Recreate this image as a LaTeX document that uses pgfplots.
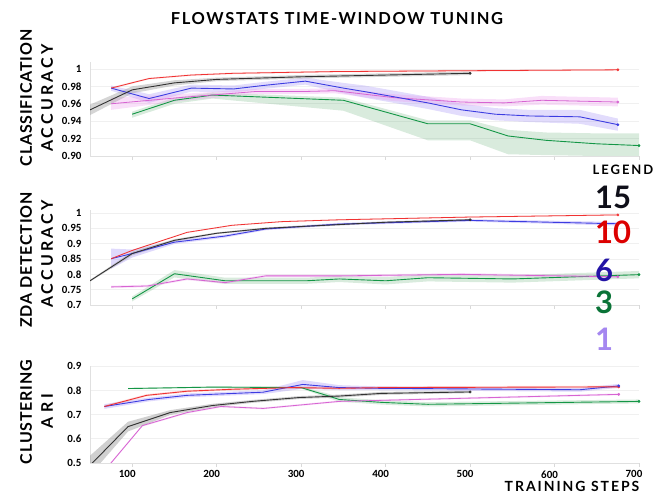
\documentclass[border=0pt]{standalone}
\usepackage{fontspec}
\setmainfont{Lato}
\newfontfamily\tickfont{Carlito}
\usepackage{pgfplots}
\usepgfplotslibrary{fillbetween}
\pgfplotsset{compat=1.18}

\definecolor{cK}{RGB}{50,50,50}
\definecolor{cR}{RGB}{240,50,50}
\definecolor{cB}{RGB}{60,60,225}
\definecolor{cG}{RGB}{20,150,70}
\definecolor{cP}{RGB}{215,100,210}
\definecolor{bK}{RGB}{150,150,150}
\definecolor{bB}{RGB}{150,130,245}
\definecolor{bG}{RGB}{80,165,100}
\definecolor{bP}{RGB}{235,150,235}
\definecolor{lK}{RGB}{15,15,25}
\definecolor{lR}{RGB}{220,0,0}
\definecolor{lB}{RGB}{35,20,165}
\definecolor{lG}{RGB}{10,115,55}
\definecolor{lP}{RGB}{165,135,240}

% ---------- Panel 1: classification accuracy ----------
\pgfplotstableread{
x y lo hi
50 0.953 0.947 0.959
100 0.976 0.972 0.980
150 0.984 0.981 0.987
200 0.988 0.986 0.990
300 0.991 0.989 0.993
400 0.993 0.991 0.995
500 0.995 0.993 0.997
}\tAk
\pgfplotstableread{
x y lo hi
75 0.978 0.977 0.979
120 0.989 0.988 0.990
170 0.993 0.992 0.994
220 0.995 0.994 0.996
340 0.997 0.996 0.998
500 0.998 0.997 0.999
675 0.999 0.998 1.000
}\tAr
\pgfplotstableread{
x y lo hi
75 0.978 0.975 0.981
120 0.966 0.961 0.971
170 0.978 0.974 0.982
220 0.977 0.973 0.981
255 0.981 0.977 0.985
305 0.986 0.982 0.990
350 0.978 0.972 0.984
375 0.974 0.967 0.981
410 0.968 0.961 0.975
450 0.961 0.954 0.968
490 0.953 0.946 0.960
530 0.948 0.941 0.955
570 0.946 0.939 0.953
630 0.945 0.937 0.953
675 0.936 0.929 0.943
}\tAb
\pgfplotstableread{
x y lo hi
75 0.960 0.953 0.967
155 0.967 0.963 0.971
245 0.974 0.971 0.977
300 0.974 0.971 0.977
340 0.975 0.972 0.978
410 0.967 0.963 0.971
490 0.962 0.958 0.966
540 0.961 0.957 0.965
585 0.964 0.959 0.969
675 0.962 0.957 0.967
}\tAp
\pgfplotstableread{
x y lo hi
100 0.948 0.944 0.951
150 0.964 0.960 0.967
195 0.970 0.966 0.973
350 0.964 0.952 0.967
450 0.937 0.918 0.941
500 0.937 0.918 0.941
545 0.923 0.902 0.930
590 0.918 0.901 0.927
650 0.914 0.900 0.926
700 0.912 0.899 0.926
}\tAg

% ---------- Panel 2: ZDA detection accuracy ----------
\pgfplotstableread{
x y lo hi
50 0.779 0.776 0.782
100 0.868 0.862 0.874
150 0.911 0.907 0.915
200 0.934 0.931 0.937
258 0.950 0.947 0.953
306 0.957 0.954 0.960
400 0.970 0.967 0.973
500 0.978 0.975 0.981
}\tBk
\pgfplotstableread{
x y lo hi
75 0.851 0.849 0.853
100 0.878 0.876 0.880
165 0.937 0.935 0.939
218 0.960 0.958 0.962
277 0.972 0.970 0.974
345 0.978 0.976 0.980
500 0.987 0.985 0.989
675 0.994 0.992 0.996
}\tBr
\pgfplotstableread{
x y lo hi
75 0.851 0.818 0.884
100 0.868 0.855 0.881
150 0.905 0.899 0.911
210 0.925 0.920 0.930
258 0.948 0.944 0.952
345 0.964 0.960 0.968
500 0.976 0.972 0.980
675 0.965 0.959 0.971
}\tBb
\pgfplotstableread{
x y lo hi
75 0.759 0.755 0.763
118 0.762 0.758 0.766
165 0.785 0.781 0.789
210 0.773 0.769 0.777
258 0.795 0.791 0.799
345 0.795 0.791 0.799
490 0.800 0.796 0.804
675 0.792 0.788 0.796
}\tBp
\pgfplotstableread{
x y lo hi
100 0.720 0.712 0.728
150 0.802 0.790 0.814
210 0.779 0.769 0.789
306 0.779 0.769 0.789
345 0.785 0.775 0.795
400 0.779 0.767 0.791
450 0.789 0.777 0.801
550 0.785 0.773 0.797
700 0.799 0.787 0.811
}\tBg

% ---------- Panel 3: clustering ARI ----------
\pgfplotstableread{
x y lo hi
50 0.490 0.450 0.530
95 0.650 0.630 0.670
145 0.708 0.698 0.718
195 0.737 0.730 0.744
242 0.754 0.748 0.760
298 0.770 0.764 0.776
345 0.776 0.770 0.782
395 0.787 0.781 0.793
500 0.793 0.788 0.798
}\tCk
\pgfplotstableread{
x y lo hi
67 0.733 0.728 0.738
117 0.779 0.774 0.784
165 0.796 0.791 0.801
218 0.804 0.799 0.809
290 0.811 0.806 0.816
345 0.808 0.803 0.813
400 0.811 0.806 0.816
676 0.814 0.809 0.819
}\tCr
\pgfplotstableread{
x y lo hi
67 0.733 0.723 0.743
120 0.762 0.754 0.770
165 0.779 0.771 0.787
255 0.792 0.784 0.800
302 0.824 0.806 0.842
345 0.811 0.801 0.821
392 0.808 0.800 0.816
630 0.802 0.794 0.810
676 0.818 0.810 0.826
}\tCb
\pgfplotstableread{
x y lo hi
70 0.480 0.476 0.484
112 0.654 0.650 0.658
165 0.708 0.704 0.712
205 0.733 0.729 0.737
255 0.725 0.721 0.729
345 0.754 0.750 0.758
676 0.783 0.779 0.787
}\tCp
\pgfplotstableread{
x y lo hi
95 0.807 0.804 0.810
195 0.813 0.810 0.816
300 0.811 0.807 0.815
330 0.779 0.770 0.788
345 0.762 0.753 0.771
395 0.750 0.741 0.759
450 0.742 0.733 0.751
700 0.754 0.746 0.762
}\tCg

% #1 table, #2 band colour, #3 band opacity, #4 id
\newcommand{\serband}[4]{%
  \addplot[draw=none, name path=hi#4, forget plot] table[x=x,y=hi]{#1};
  \addplot[draw=none, name path=lo#4, forget plot] table[x=x,y=lo]{#1};
  \addplot[fill=#2, fill opacity=#3, draw=none, forget plot] fill between[of=hi#4 and lo#4];
}
\newcommand{\serline}[3]{%
  \addplot[#2, line width=#3, forget plot] table[x=x,y=y]{#1};
}
\newcommand{\tipdot}[3]{%
  \addplot[only marks, mark=*, mark size=1.2pt, #1, forget plot] coordinates {(#2,#3)};
}

\pgfplotsset{panel/.style={
  scale only axis, width=549pt,
  xmin=50, xmax=700,
  axis x line*=bottom, axis y line*=left,
  axis line style={draw=black!12, line width=0.8pt},
  ymajorgrids, grid style={draw=black!6, line width=0.7pt},
  xtick={100,200,300,400,500,600,700},
  xtick style={draw=black!15, line width=0.6pt},
  ytick style={draw=none},
  tick align=outside, major tick length=4pt,
  tick label style={font=\tickfont\bfseries\fontsize{11}{11}\selectfont},
  /pgf/number format/assume math mode=true,
  yticklabel style={xshift=-1pt},
  clip=true,
}}

\begin{document}
\begin{tikzpicture}

% Panel 1
\begin{axis}[panel, at={(90pt,338pt)}, anchor=south west, height=94pt,
  ymin=0.9, ymax=1.008, xticklabels={},
  ytick={0.90,0.92,0.94,0.96,0.98,1}, yticklabels={0.90,0.92,0.94,0.96,0.98,1}]
  \serband{\tAg}{bG}{0.22}{g}
  \serband{\tAb}{bB}{0.28}{b}
  \serband{\tAp}{bP}{0.3}{p}
  \serband{\tAk}{bK}{0.4}{k}
  \serband{\tAr}{cR}{0.15}{r}
  \serline{\tAg}{cG}{0.9pt}
  \serline{\tAp}{cP}{0.8pt}
  \serline{\tAb}{cB}{0.9pt}
  \serline{\tAk}{cK}{0.9pt}
  \serline{\tAr}{cR}{0.8pt}
  \tipdot{cR}{675}{0.999}
  \tipdot{cK}{500}{0.995}
  \tipdot{cP}{675}{0.962}
  \tipdot{cB}{675}{0.936}
  \tipdot{cG}{700}{0.912}
\end{axis}

% Panel 2
\begin{axis}[panel, at={(90pt,189pt)}, anchor=south west, height=95pt,
  ymin=0.7, ymax=1.01, xticklabels={},
  ytick={0.7,0.75,0.8,0.85,0.9,0.95,1}, yticklabels={0.7,0.75,0.8,0.85,0.9,0.95,1}]
  \serband{\tBg}{bG}{0.22}{g}
  \serband{\tBb}{bB}{0.3}{b}
  \serband{\tBp}{bP}{0.3}{p}
  \serband{\tBk}{bK}{0.4}{k}
  \serband{\tBr}{cR}{0.15}{r}
  \serline{\tBg}{cG}{0.9pt}
  \serline{\tBp}{cP}{0.8pt}
  \serline{\tBb}{cB}{0.9pt}
  \serline{\tBk}{cK}{0.9pt}
  \serline{\tBr}{cR}{0.8pt}
  \tipdot{cR}{675}{0.994}
  \tipdot{cK}{500}{0.978}
  \tipdot{cB}{675}{0.965}
  \tipdot{cP}{675}{0.792}
  \tipdot{cG}{700}{0.799}
\end{axis}

% Panel 3
\begin{axis}[panel, at={(90pt,31pt)}, anchor=south west, height=97pt,
  ymin=0.5, ymax=0.9,
  xticklabel style={xshift=-5pt},
  ytick={0.5,0.6,0.7,0.8,0.9}, yticklabels={0.5,0.6,0.7,0.8,0.9}]
  \serband{\tCg}{bG}{0.22}{g}
  \serband{\tCb}{bB}{0.3}{b}
  \serband{\tCp}{bP}{0.3}{p}
  \serband{\tCk}{bK}{0.45}{k}
  \serband{\tCr}{cR}{0.15}{r}
  \serline{\tCg}{cG}{0.9pt}
  \serline{\tCp}{cP}{0.8pt}
  \serline{\tCb}{cB}{0.9pt}
  \serline{\tCk}{cK}{0.9pt}
  \serline{\tCr}{cR}{0.9pt}
  \tipdot{cR}{676}{0.814}
  \tipdot{cB}{676}{0.818}
  \tipdot{cK}{500}{0.793}
  \tipdot{cP}{676}{0.783}
  \tipdot{cG}{700}{0.754}
\end{axis}

% Title
\node[font=\bfseries\fontsize{16.5}{16.5}\selectfont\addfontfeature{LetterSpace=10}] at (337pt,475pt) {FLOWSTATS TIME-WINDOW TUNING};

% Y labels
\begin{scope}[every node/.style={rotate=90}]
\node[font=\bfseries\fontsize{16}{16}\selectfont\addfontfeature{LetterSpace=5}] at (26pt,396pt) {CLASSIFICATION};
\node[font=\bfseries\fontsize{16}{16}\selectfont\addfontfeature{LetterSpace=20}] at (47pt,396pt) {ACCURACY};
\node[font=\bfseries\fontsize{16}{16}\selectfont\addfontfeature{LetterSpace=5}] at (26pt,234pt) {ZDA DETECTION};
\node[font=\bfseries\fontsize{16}{16}\selectfont\addfontfeature{LetterSpace=20}] at (47pt,240pt) {ACCURACY};
\node[font=\bfseries\fontsize{16}{16}\selectfont\addfontfeature{LetterSpace=5}] at (26pt,82pt) {CLUSTERING};
\node[font=\bfseries\fontsize{16}{16}\selectfont\addfontfeature{LetterSpace=25}] at (47pt,83pt) {ARI};
\end{scope}

% X label
\node[font=\bfseries\fontsize{14}{14}\selectfont\addfontfeature{LetterSpace=14}] at (572pt,8pt) {TRAINING STEPS};

% Legend
\node[font=\bfseries\fontsize{13}{13}\selectfont\addfontfeature{LetterSpace=15}] at (623pt,324pt) {LEGEND};
\begin{scope}[every node/.style={anchor=west, inner sep=0pt, font=\bfseries\fontsize{31}{31}\selectfont}]
\node[text=lK] at (595pt,297pt) {15};
\node[text=lR] at (595pt,262pt) {10};
\node[text=lB] at (595pt,224pt) {6};
\node[text=lG] at (595pt,192pt) {3};
\node[text=lP] at (595pt,155pt) {1};
\end{scope}

\pgfresetboundingbox
\path[use as bounding box] (0pt,0pt) rectangle (666pt,494pt);
\end{tikzpicture}
\end{document}
